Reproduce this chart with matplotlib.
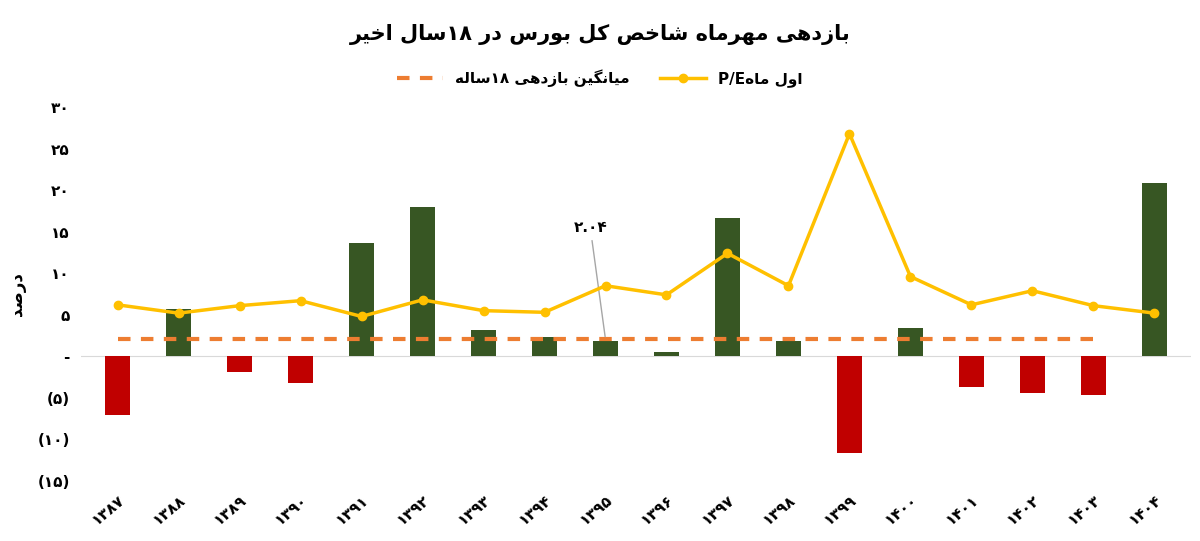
import matplotlib
matplotlib.use("Agg")
import matplotlib.pyplot as plt
import numpy as np

# --- minimal Persian shaping (matplotlib has no RTL/joining support) ---
FORMS = {  # iso, fin, ini, med
    "ا": "\uFE8D\uFE8E", "د": "\uFEA9\uFEAA", "ر": "\uFEAD\uFEAE", "ز": "\uFEAF\uFEB0",
    "و": "\uFEED\uFEEE",
    "ب": "\uFE8F\uFE90\uFE91\uFE92", "پ": "\uFB56\uFB57\uFB58\uFB59",
    "ت": "\uFE95\uFE96\uFE97\uFE98", "خ": "\uFEA5\uFEA6\uFEA7\uFEA8",
    "س": "\uFEB1\uFEB2\uFEB3\uFEB4", "ش": "\uFEB5\uFEB6\uFEB7\uFEB8",
    "ص": "\uFEB9\uFEBA\uFEBB\uFEBC", "ک": "\uFB8E\uFB8F\uFB90\uFB91",
    "گ": "\uFB92\uFB93\uFB94\uFB95", "ل": "\uFEDD\uFEDE\uFEDF\uFEE0",
    "م": "\uFEE1\uFEE2\uFEE3\uFEE4", "ن": "\uFEE5\uFEE6\uFEE7\uFEE8",
    "ه": "\uFEE9\uFEEA\uFEEB\uFEEC", "ی": "\uFBFC\uFBFD\uFBFE\uFBFF",
}


def shape(s):
    out = []
    for i, c in enumerate(s):
        if c not in FORMS:
            out.append(c)
            continue
        f = FORMS[c]
        prev = s[i - 1] if i > 0 else ""
        nxt = s[i + 1] if i + 1 < len(s) else ""
        jp = prev in FORMS and len(FORMS[prev]) == 4
        jn = nxt in FORMS and len(f) == 4
        if jp and jn:
            out.append(f[3])
        elif jp:
            out.append(f[1])
        elif jn:
            out.append(f[2])
        else:
            out.append(f[0])
    # reverse to visual order, keeping digit/latin runs LTR
    runs, cur, cur_ltr = [], "", None
    for c in out:
        ltr = c.isdigit() or c.isascii() and c.isalnum() or c in "/."
        if cur and ltr != cur_ltr:
            runs.append((cur, cur_ltr))
            cur = ""
        cur += c
        cur_ltr = ltr
    if cur:
        runs.append((cur, cur_ltr))
    return "".join(r if ltr else r[::-1] for r, ltr in reversed(runs))


FA = str.maketrans("0123456789", "۰۱۲۳۴۵۶۷۸۹")


def fa(x):
    return str(x).translate(FA)


years = [1387, 1388, 1389, 1390, 1391, 1392, 1393, 1394, 1395,
         1396, 1397, 1398, 1399, 1400, 1401, 1402, 1403, 1404]
returns = [-7.1, 5.7, -1.9, -3.2, 13.7, 18.0, 3.2, 2.3, 1.8,
           0.5, 16.7, 1.8, -11.6, 3.4, -3.7, -4.4, -4.6, 20.9]
pe = [6.2, 5.2, 6.1, 6.7, 4.8, 6.8, 5.5, 5.3, 8.5,
      7.4, 12.4, 8.5, 26.8, 9.6, 6.2, 7.9, 6.1, 5.2]
avg_return = 2.04
yticks = [-15, -10, -5, 0, 5, 10, 15, 20, 25, 30]

plt.rcParams["font.family"] = ["DejaVu Sans"]
plt.rcParams["font.weight"] = "bold"

fig = plt.figure(figsize=(12, 5.41), dpi=100)
ax = fig.add_axes([0.0675, 0.111, 0.925, 0.691])

x = np.arange(len(years))
colors = ["#375623" if v >= 0 else "#c00000" for v in returns]
ax.bar(x, returns, width=0.42, color=colors, zorder=2)
ax.axhline(0, color="#d9d9d9", lw=0.8, zorder=1)

n_avg = len(years) - 1
avg_line, = ax.plot(x[:n_avg], [avg_return] * n_avg, ls=(0, (3, 2.5)), color="#ed7d31",
                    lw=3, zorder=3)
pe_line, = ax.plot(x, pe, color="#ffc000", lw=2.5, marker="o", markersize=6, zorder=4)

ax.annotate(fa("2.04"), xy=(8, avg_return), xytext=(7.75, 15.5),
            ha="center", va="center", fontsize=11, fontweight="bold",
            arrowprops=dict(arrowstyle="-", color="#a6a6a6", lw=1))

ax.set_xlim(-0.6, 17.6)
ax.set_ylim(-15, 30)
ax.set_xticks(x)
ax.set_xticklabels([fa(y) for y in years], rotation=40, ha="right",
                   rotation_mode="anchor", fontsize=11, fontweight="bold")
ax.set_yticks(yticks)
ax.set_yticklabels([("(" + fa(-t) + ")") if t < 0 else ("-" if t == 0 else fa(t)) for t in yticks],
                   fontsize=11, fontweight="bold")
ax.tick_params(length=0, pad=8)
for s in ax.spines.values():
    s.set_visible(False)
ax.set_ylabel(shape("درصد"), fontsize=12, fontweight="bold", labelpad=8)

fig.suptitle(shape("بازدهی مهرماه شاخص کل بورس در 18سال اخیر").translate(FA),
             y=0.955, fontsize=15, fontweight="bold")
fig.legend([avg_line, pe_line],
           [shape("میانگین بازدهی 18ساله").translate(FA), "P/E" + shape("اول ماه")],
           loc="center", bbox_to_anchor=(0.5, 0.855), ncol=2, frameon=False,
           fontsize=11, handlelength=3, columnspacing=2)

fig.savefig("out.png", dpi=100)
